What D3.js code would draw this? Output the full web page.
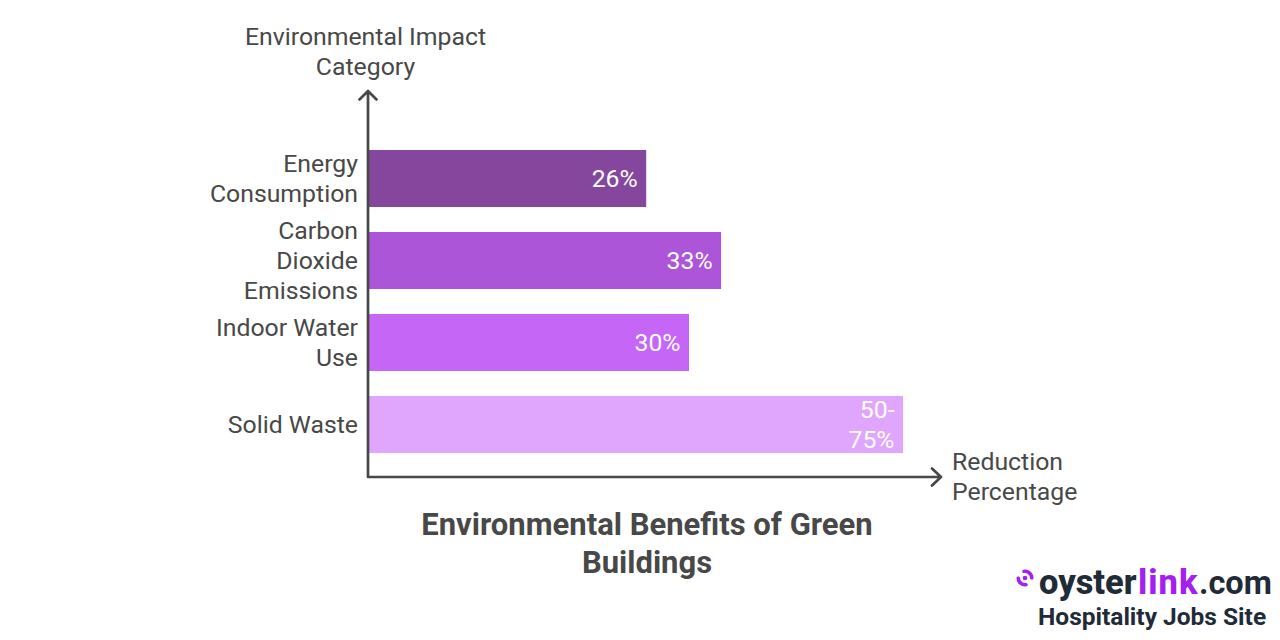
<!DOCTYPE html>
<html>
<head>
<meta charset="utf-8">
<script src="https://cdn.jsdelivr.net/npm/d3@7"></script>
<style>
html, body { margin: 0; padding: 0; background: #fff; }
text { font-family: Roboto, sans-serif; }
</style>
</head>
<body>
<div id="chart-area"></div>
<script>
var width = 1280;
var height = 640;

var categories = ["Energy Consumption", "Carbon Dioxide Emissions", "Indoor Water Use", "Solid Waste"];
var categoryLines = [["Energy", "Consumption"], ["Carbon", "Dioxide", "Emissions"], ["Indoor Water", "Use"], ["Solid Waste"]];
var values = [26, 33, 30, 50];
var valueLines = [["26%"], ["33%"], ["30%"], ["50-", "75%"]];
var barColors = ["#84479d", "#ac55d9", "#c566f7", "#e0a6fd"];

var svg = d3.select("#chart-area").append("svg")
    .attr("width", width)
    .attr("height", height)
    .style("display", "block");

var x = d3.scaleLinear().domain([0, 50]).range([368, 903]);
var y = d3.scaleBand().domain(categories).range([150, 453]).paddingInner(25 / 82).paddingOuter(0);

var ink = "#484848";
var lineH = 30;
var labelSize = 24.8;

// bars
svg.selectAll("rect.bar").data(categories).enter().append("rect")
    .attr("class", "bar")
    .attr("x", x(0))
    .attr("y", (d) => y(d))
    .attr("width", (d, i) => x(values[i]) - x(0))
    .attr("height", y.bandwidth())
    .attr("fill", (d, i) => barColors[i]);

function multiline(g, lines, xPos, yMid, size, anchor, fill, weight) {
    var t = g.append("text")
        .attr("text-anchor", anchor)
        .attr("fill", fill)
        .attr("font-size", size)
        .attr("font-weight", weight || 400);
    lines.forEach((l, i) => {
        t.append("tspan")
            .attr("x", xPos)
            .attr("y", yMid + (i - (lines.length - 1) / 2) * lineH + size * 0.36)
            .text(l);
    });
    return t;
}

// category labels
categories.forEach((c, i) => {
    multiline(svg, categoryLines[i], 358, y(c) + y.bandwidth() / 2, labelSize, "end", ink);
});

// value labels
categories.forEach((c, i) => {
    multiline(svg, valueLines[i], x(values[i]) - 8.5, y(c) + y.bandwidth() / 2, labelSize, "end", "#ffffff");
});

// axes
var axisPath = d3.path();
axisPath.moveTo(368, 477);
axisPath.lineTo(368, 91);
axisPath.moveTo(359.5, 99.5);
axisPath.lineTo(368, 91);
axisPath.lineTo(376.5, 99.5);
axisPath.moveTo(368, 477);
axisPath.lineTo(941, 477);
axisPath.moveTo(932, 468.5);
axisPath.lineTo(941, 477);
axisPath.lineTo(932, 485.5);
svg.append("path")
    .attr("d", axisPath.toString())
    .attr("fill", "none")
    .attr("stroke", ink)
    .attr("stroke-width", 2.7)
    .attr("stroke-linejoin", "round")
    .attr("stroke-linecap", "round");

// axis titles
multiline(svg, ["Environmental Impact", "Category"], 365.5, 51.5, labelSize, "middle", ink);
multiline(svg, ["Reduction", "Percentage"], 952, 476, labelSize, "start", ink);

// chart title
var title = svg.append("text")
    .attr("text-anchor", "middle")
    .attr("fill", ink)
    .attr("font-size", 31)
    .attr("font-weight", 700);
title.append("tspan").attr("x", 647).attr("y", 535).text("Environmental Benefits of Green");
title.append("tspan").attr("x", 647).attr("y", 572.5).text("Buildings");

// logo
var logo = svg.append("g");
var arc = d3.arc().innerRadius(5).outerRadius(8.5).cornerRadius(1.5);
logo.append("path")
    .attr("transform", "translate(1025,578) rotate(40)")
    .attr("d", arc({ startAngle: -1.1, endAngle: 1.1 }))
    .attr("fill", "#a51ff0");
logo.append("path")
    .attr("transform", "translate(1025,578) rotate(220)")
    .attr("d", arc({ startAngle: -1.1, endAngle: 1.1 }))
    .attr("fill", "#a51ff0");
logo.append("circle").attr("cx", 1025).attr("cy", 578).attr("r", 2.3).attr("fill", "#a51ff0");

var brand = logo.append("text")
    .attr("y", 594)
    .attr("font-size", 34.4)
    .attr("font-weight", 800)
    .attr("fill", "#1f2b38");
brand.append("tspan").attr("x", 1039).text("oyster");
brand.append("tspan").attr("x", 1138).attr("fill", "#a51ff0").attr("letter-spacing", 1).text("link");
brand.append("tspan").attr("x", 1199).attr("font-weight", 700).attr("font-size", 32.5).text(".com");

logo.append("text")
    .attr("x", 1038)
    .attr("y", 625)
    .attr("font-size", 24.5)
    .attr("font-weight", 700)
    .attr("fill", "#1f2b38")
    .text("Hospitality Jobs Site");
</script>
</body>
</html>
